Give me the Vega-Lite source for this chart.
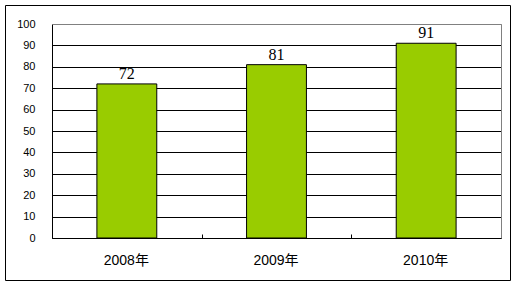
{
  "$schema": "https://vega.github.io/schema/vega-lite/v6.json",
  "autosize": "none",
  "width": 505,
  "height": 275,
  "padding": {"left": 5, "top": 5, "right": 8, "bottom": 7},
  "background": "#ffffff",
  "config": {
    "view": {"stroke": "#000000", "strokeWidth": 1}
  },
  "data": {
    "values": [
      {"year": "2008年", "value": 72},
      {"year": "2009年", "value": 81},
      {"year": "2010年", "value": 91}
    ]
  },
  "encoding": {
    "x": {
      "field": "year",
      "type": "nominal",
      "sort": null,
      "scale": {"range": [47, 496], "paddingInner": 0.6, "paddingOuter": 0.3}
    },
    "y": {
      "field": "value",
      "type": "quantitative",
      "scale": {"domain": [0, 100], "range": [233, 19], "nice": false, "zero": true}
    }
  },
  "layer": [
    {
      "mark": {"type": "bar", "fill": "#99cc00", "stroke": "#000000", "strokeWidth": 1},
      "encoding": {
        "x": {
          "field": "year",
          "type": "nominal",
          "sort": null,
          "axis": {
            "orient": "bottom",
            "title": null,
            "offset": -42,
            "domainColor": "#000000",
            "domainWidth": 1,
            "ticks": true,
            "tickBand": "center",
            "tickOffset": -75,
            "tickSize": -4,
            "tickWidth": 1,
            "tickColor": "#000000",
            "tickOpacity": 1,
            "labelAngle": 0,
            "labelOffset": 74,
            "labelPadding": 19,
            "labelFont": "Liberation Sans, Noto Sans CJK SC",
            "labelFontSize": 14,
            "labelColor": "#000000",
            "grid": false,
            "zindex": 2
          }
        },
        "y": {
          "field": "value",
          "type": "quantitative",
          "axis": {
            "orient": "left",
            "title": null,
            "offset": -47,
            "values": [0, 10, 20, 30, 40, 50, 60, 70, 80, 90, 100],
            "domainColor": "#000000",
            "ticks": false,
            "labelPadding": 17,
            "labelFont": "Liberation Sans",
            "labelFontSize": 11,
            "labelColor": "#000000",
            "grid": true,
            "gridColor": {"condition": {"test": "datum.value === 100", "value": "#808080"}, "value": "#000000"},
            "gridWidth": 1,
            "gridOpacity": 1
          }
        }
      }
    },
    {
      "mark": {
        "type": "text",
        "baseline": "bottom",
        "dy": -2,
        "font": "Liberation Serif",
        "fontSize": 16,
        "color": "#000000"
      },
      "encoding": {
        "text": {"field": "value", "type": "quantitative"},
        "x": {
          "field": "year",
          "type": "nominal",
          "sort": null,
          "axis": {
            "orient": "top",
            "title": null,
            "offset": -19,
            "labels": false,
            "ticks": false,
            "grid": false,
            "domainColor": "#808080",
            "zindex": 1
          }
        },
        "y": {
          "field": "value",
          "type": "quantitative",
          "axis": {
            "orient": "right",
            "title": null,
            "offset": -9,
            "labels": false,
            "ticks": false,
            "grid": false,
            "domainColor": "#808080",
            "zindex": 1
          }
        }
      }
    }
  ],
  "resolve": {"axis": {"x": "independent", "y": "independent"}}
}
